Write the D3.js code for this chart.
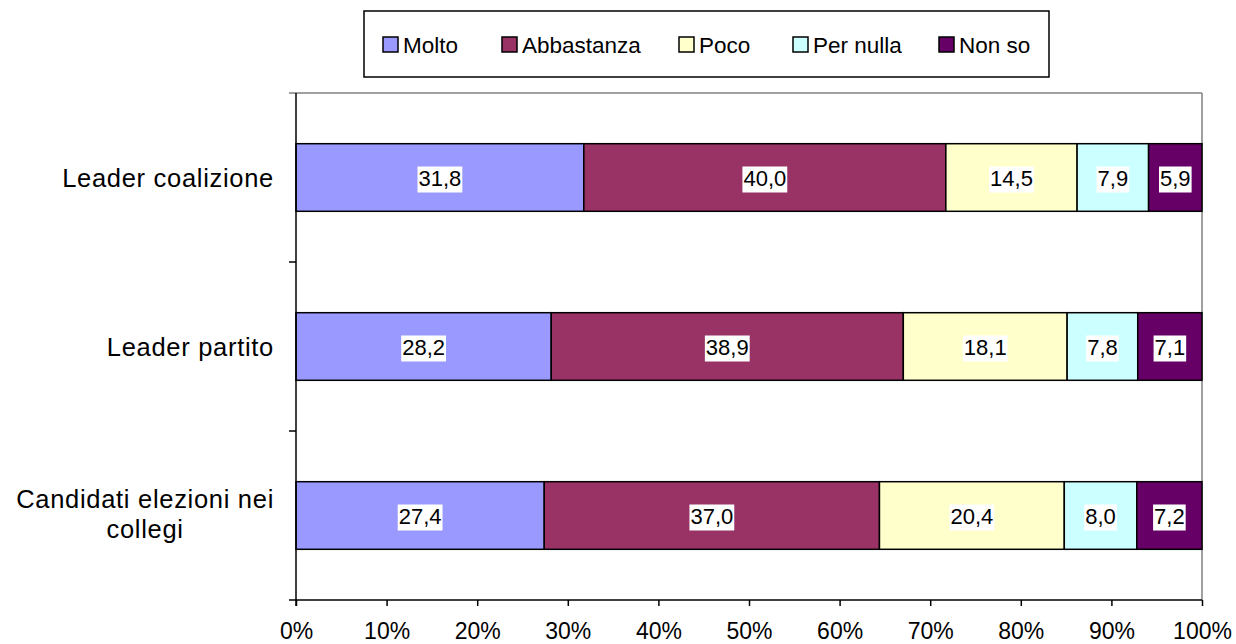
<!DOCTYPE html>
<html>
<head>
<meta charset="utf-8">
<script src="https://cdn.jsdelivr.net/npm/d3@7"></script>
<style>
  html, body { margin: 0; padding: 0; background: #fff; }
  svg { display: block; font-family: "Liberation Sans", Arial, sans-serif; }
</style>
</head>
<body>
<svg id="chart" width="1236" height="644"></svg>
<script>
// Survey answers per category (percent)
const categories = ["Leader coalizione", "Leader partito", "Candidati elezioni nei collegi"];
const seriesNames = ["Molto", "Abbastanza", "Poco", "Per nulla", "Non so"];
const seriesColors = ["#9999FF", "#993366", "#FFFFCC", "#CCFFFF", "#660066"];
const molto      = [31.8, 28.2, 27.4];
const abbastanza = [40.0, 38.9, 37.0];
const poco       = [14.5, 18.1, 20.4];
const perNulla   = [7.9, 7.8, 8.0];
const nonSo      = [5.9, 7.1, 7.2];
const xTicks = [0, 0.1, 0.2, 0.3, 0.4, 0.5, 0.6, 0.7, 0.8, 0.9, 1];

const seriesValues = [molto, abbastanza, poco, perNulla, nonSo];

const svg = d3.select("#chart");
const plot = { left: 296, right: 1202, top: 93, bottom: 600 };

// Rows normalised to 100%
const rows = categories.map((c, i) => {
  const row = { category: c };
  seriesNames.forEach((s, j) => row[s] = seriesValues[j][i]);
  row.total = d3.sum(seriesNames, s => row[s]);
  return row;
});

const x = d3.scaleLinear().domain([0, 1]).range([plot.left, plot.right]);
const y = d3.scaleBand().domain(categories).range([plot.top, plot.bottom])
  .paddingInner(0.6).paddingOuter(0.3);
const yBand = d3.scaleBand().domain(categories).range([plot.top, plot.bottom]);

const stack = d3.stack().keys(seriesNames)
  .value((d, k) => d[k] / d.total);
const layers = stack(rows);

// Plot area frame (top and right in grey)
svg.append("line").attr("x1", plot.left - 7).attr("x2", plot.right)
  .attr("y1", plot.top).attr("y2", plot.top)
  .attr("stroke", "#808080").attr("stroke-width", 1.5);
svg.append("line").attr("x1", plot.right).attr("x2", plot.right)
  .attr("y1", plot.top).attr("y2", plot.bottom)
  .attr("stroke", "#808080").attr("stroke-width", 1.5);

// Bars
const layerG = svg.selectAll("g.layer").data(layers).join("g")
  .attr("class", "layer")
  .attr("fill", (d, i) => seriesColors[i]);

layerG.selectAll("rect").data(d => d).join("rect")
  .attr("x", d => x(d[0]))
  .attr("y", d => y(d.data.category))
  .attr("width", d => x(d[1]) - x(d[0]))
  .attr("height", y.bandwidth())
  .attr("stroke", "#000").attr("stroke-width", 1.5);

// Value labels with white backing
layers.forEach((layer, i) => {
  layer.forEach((d, r) => {
    const cx = (x(d[0]) + x(d[1])) / 2;
    const cy = y(d.data.category) + y.bandwidth() / 2;
    const txt = d3.format(".1f")(seriesValues[i][r]).replace(".", ",");
    const g = svg.append("g");
    const t = g.append("text").attr("x", cx).attr("y", cy + 8)
      .attr("text-anchor", "middle").attr("font-size", 22).attr("fill", "#000")
      .text(txt);
    const bb = t.node().getBBox();
    g.insert("rect", "text").attr("x", bb.x - 1).attr("y", cy - 11)
      .attr("width", bb.width + 2).attr("height", 26).attr("fill", "#fff");
  });
});

// X axis
const xAxis = d3.axisBottom(x).tickValues(xTicks).tickFormat(d3.format(".0%"))
  .tickSize(6).tickSizeOuter(0);
const gx = svg.append("g").attr("transform", `translate(0,${plot.bottom})`).call(xAxis);
gx.select(".domain").attr("stroke", "#000").attr("stroke-width", 1.5)
  .attr("d", `M${plot.left - 7},0H${plot.right}`);
gx.selectAll(".tick line").attr("stroke", "#000").attr("stroke-width", 1.5);
gx.selectAll(".tick text").attr("font-size", 23).attr("fill", "#000")
  .attr("y", 39).attr("dy", 0)
  .style("font-family", "'Liberation Sans', Arial, sans-serif");

// Y axis line and boundary ticks
svg.append("line").attr("x1", plot.left).attr("x2", plot.left)
  .attr("y1", plot.top).attr("y2", plot.bottom + 6)
  .attr("stroke", "#000").attr("stroke-width", 1.5);
categories.slice(1).forEach(c => {
  svg.append("line").attr("x1", plot.left - 7).attr("x2", plot.left)
    .attr("y1", yBand(c)).attr("y2", yBand(c))
    .attr("stroke", "#000").attr("stroke-width", 1.5);
});

// Category labels (wrapped, lines centred within a right-aligned block)
const catLines = {
  "Leader coalizione": ["Leader coalizione"],
  "Leader partito": ["Leader partito"],
  "Candidati elezioni nei collegi": ["Candidati elezioni nei", "collegi"]
};
categories.forEach(c => {
  const lines = catLines[c];
  const cy = y(c) + y.bandwidth() / 2;
  const lh = 30;
  const t = svg.append("text").attr("text-anchor", "middle")
    .attr("font-size", 25.5).attr("letter-spacing", 0.7).attr("fill", "#000");
  lines.forEach((ln, k) => {
    t.append("tspan").attr("x", 0)
      .attr("y", cy + 9 + (k - (lines.length - 1) / 2) * lh - (lines.length > 1 ? 2 : 0)).text(ln);
  });
  const bb = t.node().getBBox();
  const center = 274 - bb.width / 2;
  t.selectAll("tspan").attr("x", center);
});

// Legend
const legend = svg.append("g");
legend.append("rect").attr("x", 364).attr("y", 11).attr("width", 685).attr("height", 66)
  .attr("fill", "#fff").attr("stroke", "#000").attr("stroke-width", 1.5);
const legendX = [383, 502, 679, 793, 939];
seriesNames.forEach((s, i) => {
  legend.append("rect").attr("x", legendX[i]).attr("y", 37).attr("width", 15).attr("height", 15)
    .attr("fill", seriesColors[i]).attr("stroke", "#000").attr("stroke-width", 1.5);
  legend.append("text").attr("x", legendX[i] + 20).attr("y", 53)
    .attr("font-size", 22.5).attr("fill", "#000").text(s);
});
</script>
</body>
</html>
